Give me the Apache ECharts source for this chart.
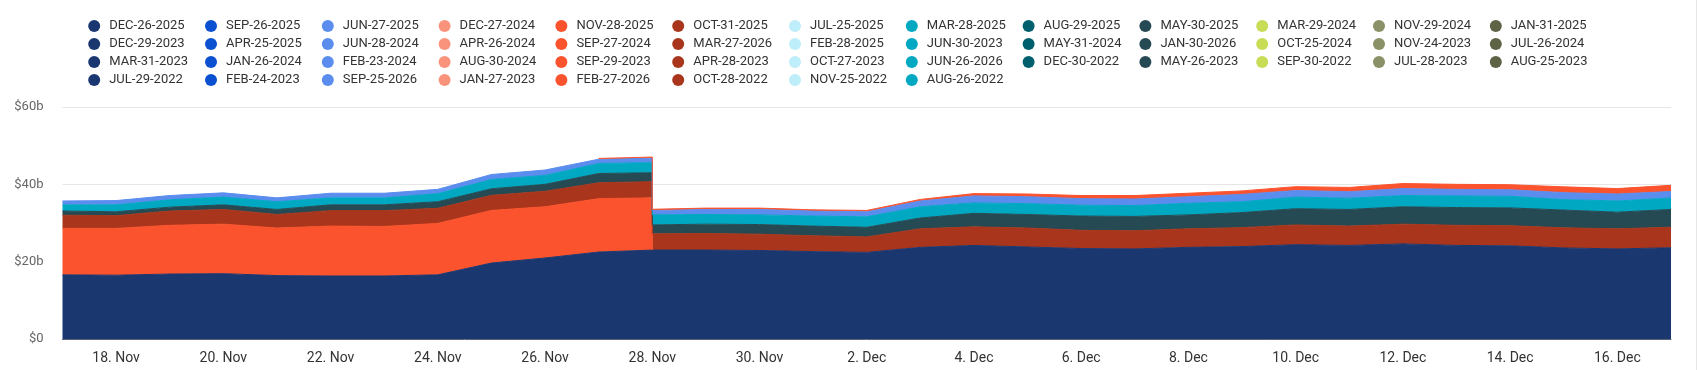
<!DOCTYPE html>
<html>
<head>
<meta charset="utf-8">
<script src="https://cdn.jsdelivr.net/npm/echarts@6/dist/echarts.min.js"></script>
<style>
html,body{margin:0;padding:0;background:#fff;}
#chart{width:1696px;height:370px;border-right:1px solid #e6e6e6;}
</style>
</head>
<body>
<div id="chart"></div>
<script>
// ---- data ----
const dates = [
  '2025-11-17','2025-11-18','2025-11-19','2025-11-20','2025-11-21','2025-11-22','2025-11-23',
  '2025-11-24','2025-11-25','2025-11-26','2025-11-27','2025-11-28','2025-11-29','2025-11-30',
  '2025-12-01','2025-12-02','2025-12-03','2025-12-04','2025-12-05','2025-12-06','2025-12-07',
  '2025-12-08','2025-12-09','2025-12-10','2025-12-11','2025-12-12','2025-12-13','2025-12-14',
  '2025-12-15','2025-12-16','2025-12-17'
];
const xTickDates = ['2025-11-18','2025-11-20','2025-11-22','2025-11-24','2025-11-26','2025-11-28',
  '2025-11-30','2025-12-02','2025-12-04','2025-12-06','2025-12-08','2025-12-10','2025-12-12',
  '2025-12-14','2025-12-16'];
const yTicks = [0, 20, 40, 60];
const monthNames = ['Jan','Feb','Mar','Apr','May','Jun','Jul','Aug','Sep','Oct','Nov','Dec'];

// legend order (row by row)
const legendNames = [
  'DEC-26-2025','SEP-26-2025','JUN-27-2025','DEC-27-2024','NOV-28-2025','OCT-31-2025','JUL-25-2025','MAR-28-2025','AUG-29-2025','MAY-30-2025','MAR-29-2024','NOV-29-2024','JAN-31-2025',
  'DEC-29-2023','APR-25-2025','JUN-28-2024','APR-26-2024','SEP-27-2024','MAR-27-2026','FEB-28-2025','JUN-30-2023','MAY-31-2024','JAN-30-2026','OCT-25-2024','NOV-24-2023','JUL-26-2024',
  'MAR-31-2023','JAN-26-2024','FEB-23-2024','AUG-30-2024','SEP-29-2023','APR-28-2023','OCT-27-2023','JUN-26-2026','DEC-30-2022','MAY-26-2023','SEP-30-2022','JUL-28-2023','AUG-25-2023',
  'JUL-29-2022','FEB-24-2023','SEP-25-2026','JAN-27-2023','FEB-27-2026','OCT-28-2022','NOV-25-2022','AUG-26-2022'
];
const palette = ['#1b3770','#0b50d0','#5b8def','#f9937b','#fb532d','#a9361c','#bdeef9','#00a8c2','#005f6d','#264a53','#c8dc55','#8b9166','#5d6344'];

// open interest, $ billions (null = no open interest shown)
const DEC_26_2025 = [16.6,16.5,16.8,16.9,16.4,16.3,16.3,16.6,19.65,20.95,22.5,23.0,23.0,22.9,22.6,22.4,23.7,24.2,23.8,23.4,23.3,23.7,23.9,24.4,24.2,24.6,24.2,24.1,23.55,23.3,23.6];
const NOV_28_2025 = [12.0,12.1,12.6,12.8,12.3,12.9,12.8,13.3,13.6,13.25,13.8,13.5,null,null,null,null,null,null,null,null,null,null,null,null,null,null,null,null,null,null,null];
const MAR_27_2026 = [3.4,3.3,3.7,3.8,3.5,4.0,4.1,3.9,3.9,4.0,4.1,4.2,4.3,4.2,4.1,4.0,4.8,4.8,4.9,4.7,4.7,4.8,4.9,5.1,5.0,5.1,5.2,5.2,5.2,5.2,5.3];
const JAN_30_2026 = [1.1,1.0,1.0,1.2,1.3,1.5,1.5,1.7,1.7,1.8,2.4,2.3,2.4,2.5,2.5,2.5,2.8,3.5,3.5,3.7,3.7,3.6,3.9,4.2,4.3,4.5,4.6,4.6,4.6,4.3,4.6];
const JUN_26_2026 = [1.6,1.8,1.9,2.0,2.0,1.8,1.8,2.1,2.4,2.3,2.6,2.6,2.5,2.5,2.6,2.7,2.9,2.7,2.8,2.8,2.8,3.0,2.8,3.0,2.9,2.9,3.0,3.0,2.7,2.9,2.95];
const SEP_25_2026 = [1.0,1.1,1.1,1.1,1.0,1.2,1.2,1.1,1.3,1.4,1.1,1.15,1.3,1.4,1.3,1.3,1.5,1.8,1.8,1.7,1.7,1.7,1.9,1.7,1.7,1.8,1.7,1.7,1.8,1.8,1.7];
const FEB_27_2026 = [null,null,null,null,null,null,null,null,null,null,0.2,0.3,0.35,0.35,0.3,0.35,0.4,0.6,0.7,0.8,0.9,0.9,0.9,1.0,1.1,1.3,1.3,1.3,1.5,1.4,1.6];

// stacking order, bottom to top
const stackOrder = [
  ['DEC-26-2025', DEC_26_2025],
  ['NOV-28-2025', NOV_28_2025],
  ['MAR-27-2026', MAR_27_2026],
  ['JAN-30-2026', JAN_30_2026],
  ['JUN-26-2026', JUN_26_2026],
  ['SEP-25-2026', SEP_25_2026],
  ['FEB-27-2026', FEB_27_2026]
];

// ---- build ----
function parseDate(s){ const p = s.split('-').map(Number); return new Date(p[0], p[1]-1, p[2]).getTime(); }
const times = dates.map(parseDate);
const colorOf = name => palette[legendNames.indexOf(name) % palette.length];

// sample list: each real date, plus a settlement sample right after a date where a contract expires
const samples = [];
times.forEach((t, i) => {
  samples.push({ t: t, idx: i, settle: false });
  const expiring = stackOrder.some(([, v]) => v[i] != null && i + 1 < v.length && v[i + 1] == null);
  if (expiring) samples.push({ t: t + 60 * 1000, idx: i, settle: true });
});

const activeNames = stackOrder.map(s => s[0]);
const series = stackOrder.map(([name, vals]) => {
  const c = colorOf(name);
  const data = samples.map(s => {
    let v = vals[s.idx];
    if (s.settle && v != null && vals[s.idx + 1] == null) v = 0;
    return [s.t, v];
  });
  return {
    name: name, type: 'line', stack: 'oi', data: data, xAxisIndex: 0,
    symbol: 'none', showSymbol: false, connectNulls: false,
    lineStyle: { width: 1, color: c }, itemStyle: { color: c },
    areaStyle: { color: c, opacity: 1 }, emphasis: { disabled: true }
  };
});
legendNames.forEach(name => {
  if (activeNames.indexOf(name) >= 0) return;
  const c = colorOf(name);
  series.push({ name: name, type: 'line', data: [], symbol: 'none', xAxisIndex: 0,
    lineStyle: { color: c }, itemStyle: { color: c }, areaStyle: { color: c, opacity: 1 } });
});

// one legend column per palette colour
const legends = [];
for (let col = 0; col < palette.length; col++) {
  const names = legendNames.filter((n, k) => k % palette.length === col);
  legends.push({
    orient: 'vertical', left: 88.2 + col * 116.8, top: 19.5, padding: 0, itemGap: 5,
    itemWidth: 20, itemHeight: 12, icon: 'circle', selectedMode: false,
    itemStyle: { borderWidth: 0 },
    textStyle: { fontFamily: 'Roboto', fontSize: 13, color: '#333333', lineHeight: 13 },
    data: names
  });
}

const chart = echarts.init(document.getElementById('chart'), null, { renderer: 'canvas' });
chart.setOption({
  animation: false,
  backgroundColor: '#ffffff',
  legend: legends,
  grid: { left: 62.5, right: 25, top: 107, bottom: 31, containLabel: false },
  xAxis: [
    { // time axis carrying the series (hidden)
      type: 'time', position: 'top', min: times[0], max: times[times.length - 1], show: false
    },
    { // label axis with the same extent
      type: 'value', position: 'bottom', min: times[0], max: times[times.length - 1],
      axisLine: { show: true, onZero: false, lineStyle: { color: '#5a6275', width: 1 } },
      axisTick: { show: false },
      splitLine: { show: false },
      axisLabel: {
        customValues: xTickDates.map(parseDate),
        margin: 12, color: '#333333', fontFamily: 'Roboto', fontSize: 14,
        hideOverlap: false,
        formatter: v => { const d = new Date(v); return d.getDate() + '. ' + monthNames[d.getMonth()]; }
      }
    }
  ],
  yAxis: {
    type: 'value', min: yTicks[0], max: yTicks[yTicks.length - 1], interval: yTicks[1] - yTicks[0],
    axisLine: { show: false }, axisTick: { show: false },
    splitLine: { lineStyle: { color: '#e6e6e6', width: 1 } },
    axisLabel: { margin: 19, color: '#666666', fontFamily: 'Roboto', fontSize: 13,
      formatter: v => v === 0 ? '$0' : '$' + v + 'b' }
  },
  series: series
});
</script>
</body>
</html>
